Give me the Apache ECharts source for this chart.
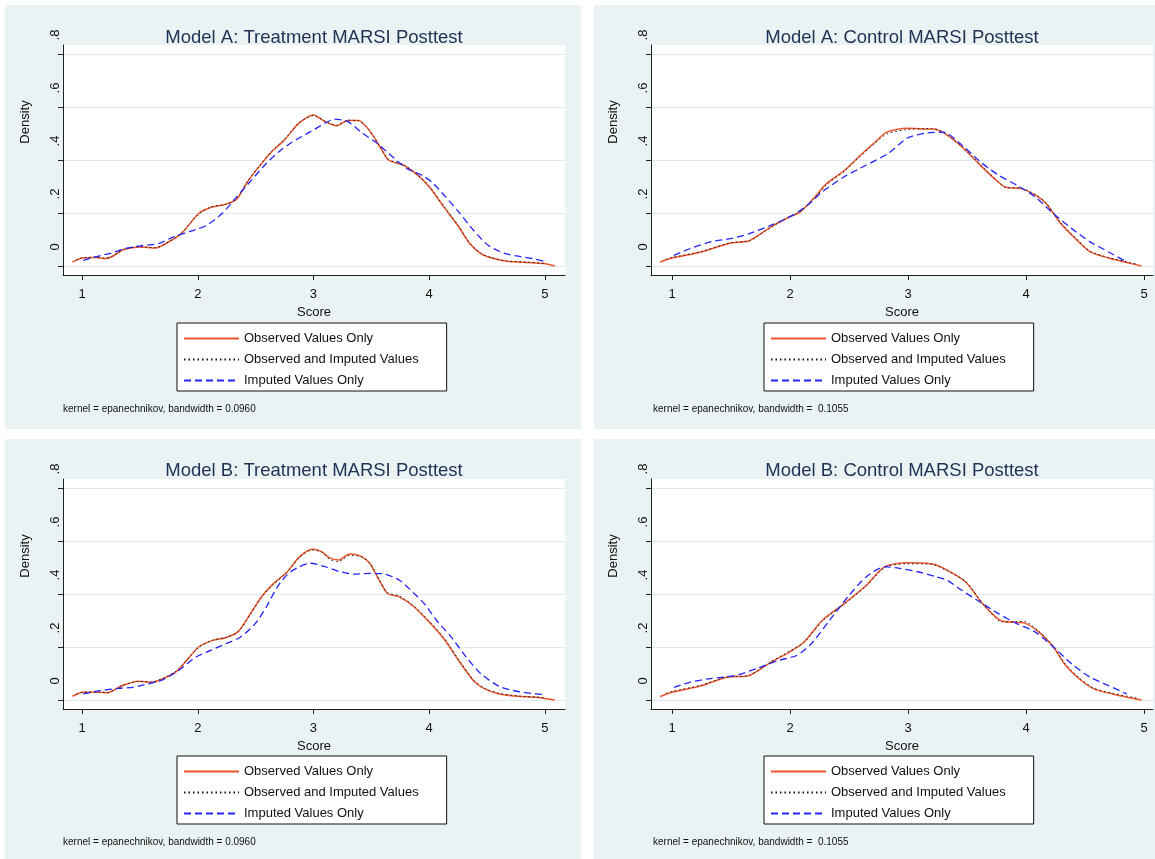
<!DOCTYPE html>
<html>
<head>
<meta charset="utf-8">
<script src="https://cdn.jsdelivr.net/npm/echarts@6/dist/echarts.min.js"></script>
<style>
html,body{margin:0;padding:0;background:#ffffff;}
#chart{width:1155px;height:859px;}
</style>
</head>
<body>
<div id="chart"></div>
<script>
// ---------- data ----------
const seriesNames = ['Observed Values Only', 'Observed and Imputed Values', 'Imputed Values Only'];
const panelTitles = ['Model A: Treatment MARSI Posttest', 'Model A: Control MARSI Posttest',
                     'Model B: Treatment MARSI Posttest', 'Model B: Control MARSI Posttest'];
const panelNotes = ['kernel = epanechnikov, bandwidth = 0.0960', 'kernel = epanechnikov, bandwidth =  0.1055',
                    'kernel = epanechnikov, bandwidth = 0.0960', 'kernel = epanechnikov, bandwidth =  0.1055'];
const xTicks = [1, 2, 3, 4, 5];
const yTicks = [0, 0.2, 0.4, 0.6, 0.8];
const xAxisName = 'Score';
const yAxisName = 'Density';

// Model A treatment
const aTrtObsX = [0.917,1.0,1.12,1.2,1.26,1.36,1.505,1.633,1.71,1.857,2.007,2.11,2.24,2.336,2.43,2.53,2.64,2.75,2.874,3.0,3.10,3.2,3.296,3.39,3.455,3.52,3.583,3.648,3.775,3.90,4.0,4.127,4.255,4.35,4.447,4.543,4.67,4.86,4.99,5.086];
const aTrtObsY = [0.015,0.030,0.032,0.028,0.036,0.062,0.072,0.068,0.081,0.122,0.198,0.221,0.233,0.252,0.318,0.375,0.432,0.476,0.539,0.570,0.545,0.529,0.549,0.549,0.526,0.488,0.444,0.400,0.381,0.343,0.299,0.223,0.148,0.085,0.047,0.030,0.018,0.013,0.009,0.0];
const aTrtAllX = [0.95,1.0,1.12,1.2,1.26,1.36,1.505,1.633,1.71,1.857,2.007,2.11,2.24,2.336,2.43,2.53,2.64,2.75,2.874,3.0,3.10,3.2,3.296,3.39,3.455,3.52,3.583,3.648,3.775,3.90,4.0,4.127,4.255,4.35,4.447,4.543,4.67,4.86,4.99];
const aTrtAllY = [0.022,0.031,0.033,0.029,0.037,0.063,0.073,0.069,0.082,0.124,0.196,0.222,0.232,0.254,0.320,0.377,0.433,0.478,0.540,0.568,0.546,0.531,0.550,0.548,0.527,0.489,0.443,0.402,0.383,0.344,0.302,0.225,0.150,0.087,0.048,0.031,0.019,0.014,0.010];
const aTrtImpX = [1.01,1.1,1.25,1.377,1.505,1.665,1.79,1.985,2.08,2.21,2.336,2.464,2.592,2.72,2.848,2.975,3.10,3.18,3.296,3.423,3.55,3.68,3.807,3.935,4.03,4.127,4.255,4.383,4.51,4.64,4.767,4.895,4.99];
const aTrtImpY = [0.021,0.033,0.049,0.066,0.076,0.085,0.110,0.138,0.154,0.198,0.261,0.324,0.387,0.438,0.476,0.507,0.539,0.554,0.545,0.501,0.463,0.413,0.368,0.343,0.314,0.268,0.204,0.135,0.078,0.049,0.037,0.028,0.018];

// Model A control
const aCtlObsX = [0.90,1.0,1.249,1.497,1.653,1.84,1.995,2.088,2.212,2.305,2.46,2.585,2.71,2.82,2.99,3.144,3.207,3.30,3.455,3.61,3.735,3.83,3.953,4.077,4.17,4.294,4.419,4.543,4.70,4.853,4.978];
const aCtlObsY = [0.015,0.030,0.053,0.087,0.095,0.148,0.185,0.204,0.261,0.309,0.360,0.413,0.463,0.505,0.520,0.517,0.517,0.503,0.450,0.381,0.328,0.297,0.293,0.268,0.236,0.160,0.103,0.053,0.030,0.013,0.0];
const aCtlAllX = [0.95,1.0,1.249,1.497,1.653,1.84,1.995,2.088,2.212,2.305,2.46,2.585,2.71,2.82,2.99,3.144,3.207,3.30,3.455,3.61,3.735,3.83,3.953,4.077,4.17,4.294,4.419,4.543,4.70,4.853,4.95];
const aCtlAllY = [0.024,0.032,0.055,0.088,0.094,0.147,0.186,0.206,0.258,0.305,0.358,0.410,0.460,0.498,0.515,0.518,0.519,0.505,0.452,0.384,0.331,0.296,0.294,0.270,0.238,0.163,0.106,0.056,0.032,0.016,0.006];
const aCtlImpX = [1.016,1.155,1.342,1.497,1.653,1.84,2.026,2.15,2.274,2.46,2.647,2.834,2.99,3.144,3.30,3.455,3.61,3.766,3.922,4.077,4.232,4.388,4.543,4.70,4.853];
const aCtlImpY = [0.040,0.066,0.093,0.103,0.122,0.154,0.192,0.230,0.280,0.337,0.381,0.425,0.482,0.501,0.505,0.457,0.394,0.343,0.305,0.261,0.198,0.141,0.091,0.053,0.015];

// Model B treatment
const bTrtObsX = [0.917,1.01,1.153,1.217,1.345,1.489,1.60,1.697,1.825,2.007,2.13,2.24,2.35,2.464,2.56,2.656,2.768,2.88,2.99,3.07,3.135,3.216,3.312,3.408,3.488,3.552,3.64,3.743,3.87,4.0,4.127,4.255,4.383,4.48,4.607,4.767,4.926,5.086];
const bTrtObsY = [0.014,0.029,0.029,0.027,0.054,0.071,0.067,0.080,0.111,0.200,0.225,0.235,0.259,0.332,0.395,0.440,0.481,0.541,0.569,0.560,0.537,0.528,0.551,0.543,0.515,0.465,0.402,0.389,0.351,0.294,0.231,0.149,0.073,0.042,0.023,0.014,0.010,0.0];
const bTrtAllX = [0.95,1.01,1.153,1.217,1.345,1.489,1.60,1.697,1.825,2.007,2.13,2.24,2.35,2.464,2.56,2.656,2.768,2.88,2.99,3.07,3.135,3.216,3.312,3.408,3.488,3.552,3.64,3.743,3.87,4.0,4.127,4.255,4.383,4.48,4.607,4.767,4.926,5.0];
const bTrtAllY = [0.022,0.030,0.030,0.028,0.055,0.070,0.068,0.081,0.113,0.198,0.226,0.236,0.257,0.330,0.392,0.438,0.480,0.538,0.566,0.558,0.532,0.522,0.546,0.541,0.516,0.467,0.405,0.392,0.354,0.298,0.235,0.152,0.076,0.044,0.025,0.015,0.011,0.008];
const bTrtImpX = [1.01,1.153,1.313,1.44,1.57,1.697,1.825,1.985,2.11,2.24,2.368,2.496,2.592,2.688,2.784,2.88,2.975,3.10,3.23,3.36,3.488,3.616,3.743,3.87,3.968,4.063,4.19,4.32,4.447,4.607,4.767,4.926,5.0];
const bTrtImpY = [0.023,0.035,0.044,0.048,0.061,0.076,0.109,0.162,0.187,0.212,0.237,0.288,0.351,0.427,0.478,0.503,0.516,0.503,0.484,0.475,0.478,0.475,0.452,0.402,0.358,0.301,0.238,0.162,0.099,0.051,0.032,0.023,0.020];

// Model B control
const bCtlObsX = [0.90,1.0,1.249,1.466,1.653,1.84,1.995,2.119,2.274,2.46,2.647,2.803,2.99,3.207,3.331,3.487,3.642,3.798,3.984,4.108,4.232,4.326,4.45,4.574,4.73,4.978];
const bCtlObsY = [0.013,0.029,0.054,0.086,0.092,0.143,0.181,0.219,0.301,0.364,0.433,0.503,0.518,0.513,0.490,0.446,0.358,0.297,0.291,0.257,0.200,0.136,0.080,0.042,0.023,0.0];
const bCtlAllX = [0.95,1.0,1.249,1.466,1.653,1.84,1.995,2.119,2.274,2.46,2.647,2.803,2.99,3.207,3.331,3.487,3.642,3.798,3.984,4.108,4.232,4.326,4.45,4.574,4.73,4.95];
const bCtlAllY = [0.025,0.032,0.056,0.087,0.093,0.145,0.184,0.217,0.298,0.362,0.430,0.500,0.514,0.512,0.488,0.447,0.360,0.295,0.296,0.259,0.203,0.139,0.083,0.045,0.026,0.006];
const bCtlImpX = [1.016,1.155,1.31,1.528,1.715,1.90,2.057,2.18,2.336,2.49,2.647,2.803,2.927,3.082,3.238,3.331,3.455,3.61,3.766,3.922,4.077,4.232,4.388,4.543,4.70,4.853];
const bCtlImpY = [0.048,0.067,0.080,0.092,0.118,0.149,0.168,0.212,0.301,0.389,0.465,0.503,0.497,0.484,0.465,0.452,0.414,0.370,0.326,0.288,0.257,0.200,0.136,0.086,0.054,0.023];

const panelData = [
  [[aTrtObsX, aTrtObsY], [aTrtAllX, aTrtAllY], [aTrtImpX, aTrtImpY]],
  [[aCtlObsX, aCtlObsY], [aCtlAllX, aCtlAllY], [aCtlImpX, aCtlImpY]],
  [[bTrtObsX, bTrtObsY], [bTrtAllX, bTrtAllY], [bTrtImpX, bTrtImpY]],
  [[bCtlObsX, bCtlObsY], [bCtlAllX, bCtlAllY], [bCtlImpX, bCtlImpY]]
];

// ---------- layout / style ----------
const FONT = '"Liberation Sans", Arial, Helvetica, sans-serif';
const BG = '#eaf2f3';
const layout = [
  {bg: [5, 5, 576, 424],   grid: {left: 63,  top: 45,  width: 502, height: 230}, xMin: 0.835, xMax: 5.174, legend: [177, 323], note: [63, 404],  title: [314, 28]},
  {bg: [594, 5, 561, 424], grid: {left: 651, top: 45,  width: 502, height: 230}, xMin: 0.822, xMax: 5.076, legend: [764, 323], note: [653, 404], title: [902, 28]},
  {bg: [5, 439, 576, 420], grid: {left: 63,  top: 479, width: 502, height: 230}, xMin: 0.835, xMax: 5.174, legend: [177, 756], note: [63, 837],  title: [314, 461]},
  {bg: [594, 439, 561, 420], grid: {left: 651, top: 479, width: 502, height: 230}, xMin: 0.822, xMax: 5.076, legend: [764, 756], note: [653, 837], title: [902, 461]}
];
const lineStyles = [
  {color: '#f0562c', width: 1.5, type: 'solid'},
  {color: '#111111', width: 1, type: [1.5, 3]},
  {color: '#2424ff', width: 1.3, type: [7, 4]}
];
const lineZ = [3, 4, 5];

const grids = [], xAxes = [], yAxes = [], series = [], titles = [], legends = [], graphics = [];
layout.forEach((L, i) => {
  graphics.push({type: 'rect', z: -10, shape: {x: L.bg[0], y: L.bg[1], width: L.bg[2], height: L.bg[3]}, style: {fill: BG}});
  grids.push(Object.assign({show: true, backgroundColor: '#ffffff', borderWidth: 0}, L.grid));
  xAxes.push({
    type: 'value', gridIndex: i, min: L.xMin, max: L.xMax,
    name: xAxisName, nameLocation: 'middle', nameGap: 31,
    nameTextStyle: {fontFamily: FONT, fontSize: 13, color: '#111'},
    axisLine: {show: true, onZero: false, lineStyle: {color: '#222', width: 1}},
    axisTick: {show: true, length: 5, customValues: xTicks, lineStyle: {color: '#222'}},
    axisLabel: {customValues: xTicks, margin: 13, fontFamily: FONT, fontSize: 13, color: '#111'},
    splitLine: {show: false}
  });
  yAxes.push({
    type: 'value', gridIndex: i, min: -0.034, max: 0.834,
    name: yAxisName, nameLocation: 'middle', nameGap: 31,
    nameTextStyle: {fontFamily: FONT, fontSize: 13, color: '#111', padding: [0, 0, 0, 76]},
    axisLine: {show: true, onZero: false, lineStyle: {color: '#222', width: 1}},
    axisTick: {show: true, length: 5, customValues: yTicks, lineStyle: {color: '#222'}},
    axisLabel: {customValues: yTicks, rotate: 90, margin: 1, fontFamily: FONT, fontSize: 13, color: '#111',
      padding: [0, 0, 0, 38],
      formatter: v => (Math.abs(v) < 1e-9 ? '0' : '.' + Math.round(v * 10))},
    splitLine: {show: true, lineStyle: {color: '#e1eaec', width: 1}}
  });
  panelData[i].forEach((d, k) => {
    series.push({
      type: 'line', name: seriesNames[k], xAxisIndex: i, yAxisIndex: i,
      data: d[0].map((x, j) => [x, d[1][j]]),
      showSymbol: false, symbol: 'none', smooth: 0.25, silent: true,
      lineStyle: lineStyles[k], itemStyle: {color: lineStyles[k].color}, z: lineZ[k]
    });
  });
  titles.push({text: panelTitles[i], left: L.title[0], top: L.title[1], textAlign: 'center', padding: 0,
    textStyle: {fontFamily: FONT, fontSize: 18.5, fontWeight: 'normal', color: '#1f3154'}});
  titles.push({text: panelNotes[i], left: L.note[0], top: L.note[1], padding: 0,
    textStyle: {fontFamily: FONT, fontSize: 10, fontWeight: 'normal', color: '#111'}});
  legends.push({
    data: seriesNames, orient: 'vertical', left: L.legend[0], top: L.legend[1],
    itemWidth: 55, itemHeight: 13, itemGap: 8, padding: [9, 28, 4, 6],
    backgroundColor: '#ffffff', borderColor: '#111', borderWidth: 1, borderRadius: 0,
    selectedMode: false,
    itemStyle: {color: 'rgba(0,0,0,0)', borderWidth: 0, opacity: 0},
    textStyle: {fontFamily: FONT, fontSize: 13, color: '#111'}
  });
});

const chart = echarts.init(document.getElementById('chart'), null, {renderer: 'canvas'});
chart.setOption({
  animation: false,
  backgroundColor: '#ffffff',
  graphic: graphics,
  title: titles,
  legend: legends,
  grid: grids,
  xAxis: xAxes,
  yAxis: yAxes,
  series: series
});
</script>
</body>
</html>
